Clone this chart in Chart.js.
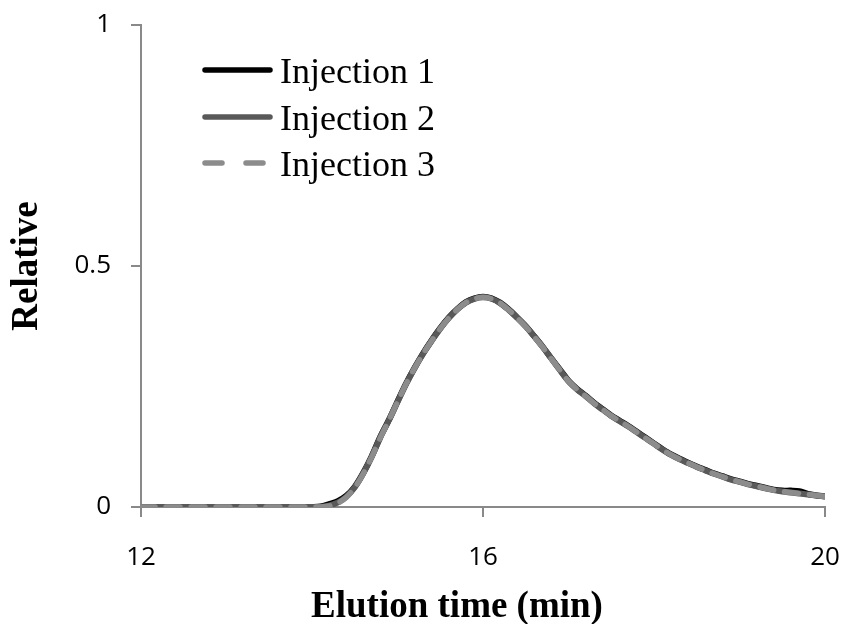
<!DOCTYPE html>
<html>
<head>
<meta charset="utf-8">
<script src="https://cdn.jsdelivr.net/npm/chart.js@4"></script>
<style>
  html, body { margin: 0; padding: 0; background: #fff; }
  #wrap { width: 844px; height: 624px; }
</style>
</head>
<body>
<div id="wrap"><canvas id="myChart" width="844" height="624"></canvas></div>
<script>
// elution time (min), sampled every 0.1 min
const times = [
  12.0, 12.1, 12.2, 12.3, 12.4, 12.5, 12.6, 12.7, 12.8, 12.9,
  13.0, 13.1, 13.2, 13.3, 13.4, 13.5, 13.6, 13.7, 13.8, 13.9,
  14.0, 14.1, 14.2, 14.3, 14.4, 14.5, 14.6, 14.7, 14.8, 14.9,
  15.0, 15.1, 15.2, 15.3, 15.4, 15.5, 15.6, 15.7, 15.8, 15.9,
  16.0, 16.1, 16.2, 16.3, 16.4, 16.5, 16.6, 16.7, 16.8, 16.9,
  17.0, 17.1, 17.2, 17.3, 17.4, 17.5, 17.6, 17.7, 17.8, 17.9,
  18.0, 18.1, 18.2, 18.3, 18.4, 18.5, 18.6, 18.7, 18.8, 18.9,
  19.0, 19.1, 19.2, 19.3, 19.4, 19.5, 19.6, 19.7, 19.8, 19.9,
  20.0
];

const injection1 = [
  0, 0, 0, 0, 0, 0, 0, 0, 0, 0,
  0, 0, 0, 0, 0, 0, 0, 0, 0, 0,
  0, 0.001, 0.006, 0.012, 0.023, 0.042, 0.071, 0.106, 0.146, 0.181,
  0.219, 0.256, 0.289, 0.319, 0.346, 0.371, 0.393, 0.411, 0.425, 0.433,
  0.436, 0.433, 0.424, 0.410, 0.393, 0.375, 0.354, 0.332, 0.308, 0.285,
  0.262, 0.245, 0.231, 0.216, 0.203, 0.190, 0.179, 0.168, 0.156, 0.144,
  0.132, 0.120, 0.109, 0.100, 0.092, 0.084, 0.077, 0.070, 0.064, 0.058,
  0.053, 0.048, 0.044, 0.040, 0.036, 0.034, 0.034, 0.033, 0.027, 0.024,
  0.022
];

const injection2 = [
  0, 0, 0, 0, 0, 0, 0, 0, 0, 0,
  0, 0, 0, 0, 0, 0, 0, 0, 0, 0,
  0, 0, 0.003, 0.009, 0.021, 0.041, 0.070, 0.105, 0.145, 0.180,
  0.218, 0.255, 0.288, 0.318, 0.345, 0.370, 0.392, 0.410, 0.424, 0.432,
  0.435, 0.432, 0.423, 0.409, 0.393, 0.375, 0.354, 0.332, 0.308, 0.284,
  0.261, 0.244, 0.230, 0.215, 0.202, 0.189, 0.178, 0.167, 0.155, 0.143,
  0.131, 0.119, 0.108, 0.099, 0.091, 0.083, 0.076, 0.069, 0.063, 0.057,
  0.052, 0.047, 0.043, 0.039, 0.035, 0.032, 0.030, 0.028, 0.026, 0.024,
  0.022
];

const injection3 = [
  0, 0, 0, 0, 0, 0, 0, 0, 0, 0,
  0, 0, 0, 0, 0, 0, 0, 0, 0, 0,
  0, 0, 0.002, 0.008, 0.020, 0.040, 0.069, 0.104, 0.144, 0.180,
  0.218, 0.255, 0.288, 0.318, 0.345, 0.370, 0.392, 0.410, 0.424, 0.432,
  0.435, 0.432, 0.423, 0.409, 0.392, 0.374, 0.353, 0.331, 0.307, 0.284,
  0.261, 0.244, 0.230, 0.215, 0.202, 0.189, 0.178, 0.167, 0.155, 0.143,
  0.131, 0.119, 0.108, 0.099, 0.091, 0.083, 0.076, 0.069, 0.063, 0.057,
  0.052, 0.047, 0.043, 0.039, 0.035, 0.032, 0.030, 0.028, 0.026, 0.024,
  0.022
];

const seriesNames = ['Injection 1', 'Injection 2', 'Injection 3'];
const xTicks = [12, 16, 20];
const yTicks = [0, 0.5, 1];
const xTitle = 'Elution time (min)';

const axisGray = '#898989';
const serif = '"Liberation Serif", "Times New Roman", serif';
const sans = '"Open Sans", "Liberation Sans", sans-serif';

function pts(ys) {
  return times.map((t, i) => ({ x: t, y: ys[i] }));
}

// drop the label overhang padding so the plot box sits where layout.padding says
function noOverhang(scale) {
  scale.paddingTop = 0;
  scale.paddingBottom = 0;
  scale.paddingLeft = 0;
  scale.paddingRight = 0;
}

// legend inside the plot (top left) and the x axis title, a bit left of centre
const overlay = {
  id: 'overlay',
  afterDraw(chart) {
    const ctx = chart.ctx;
    const rows = [70, 117, 163];
    ctx.save();
    chart.data.datasets.forEach((ds, i) => {
      const y = rows[i];
      ctx.beginPath();
      ctx.strokeStyle = ds.borderColor;
      ctx.lineWidth = 5.5;
      ctx.lineCap = 'round';
      ctx.setLineDash(ds.borderDash && ds.borderDash.length ? [17, 24] : []);
      ctx.moveTo(205, y);
      ctx.lineTo(270, y);
      ctx.stroke();
      ctx.setLineDash([]);
      ctx.fillStyle = '#000';
      ctx.font = '36px ' + serif;
      ctx.textAlign = 'left';
      ctx.textBaseline = 'alphabetic';
      ctx.fillText(ds.label, 280, y + 13);
    });
    ctx.font = 'bold 37px ' + serif;
    ctx.textAlign = 'center';
    ctx.fillText(xTitle, 457, 617);
    ctx.restore();
  }
};

const ctx = document.getElementById('myChart');

new Chart(ctx, {
  type: 'line',
  data: {
    datasets: [
      {
        label: seriesNames[0],
        data: pts(injection1),
        borderColor: '#000000',
        borderWidth: 6,
        order: 3
      },
      {
        label: seriesNames[1],
        data: pts(injection2),
        borderColor: '#595959',
        borderWidth: 6,
        order: 2
      },
      {
        label: seriesNames[2],
        data: pts(injection3),
        borderColor: '#8c8c8c',
        borderWidth: 5.5,
        borderDash: [14, 11],
        borderCapStyle: 'round',
        order: 1
      }
    ]
  },
  options: {
    responsive: false,
    animation: false,
    elements: {
      point: { radius: 0 },
      line: { tension: 0.3, borderJoinStyle: 'round' }
    },
    layout: { padding: { left: 0, top: 25, right: 19, bottom: 0 } },
    plugins: {
      legend: { display: false },
      tooltip: { enabled: false }
    },
    scales: {
      x: {
        type: 'linear',
        min: 12,
        max: 20,
        afterBuildTicks(scale) {
          scale.ticks = xTicks.map(v => ({ value: v }));
        },
        afterFit(scale) {
          scale.height = 117;
          noOverhang(scale);
        },
        grid: {
          drawOnChartArea: false,
          color: axisGray,
          lineWidth: 2,
          tickLength: 10
        },
        border: { color: axisGray, width: 2 },
        ticks: {
          color: '#000',
          font: { family: sans, size: 26 },
          padding: 25,
          maxRotation: 0
        }
      },
      y: {
        type: 'linear',
        min: 0,
        max: 1,
        afterBuildTicks(scale) {
          scale.ticks = yTicks.map(v => ({ value: v }));
        },
        afterFit(scale) {
          scale.width = 141;
          noOverhang(scale);
        },
        grid: {
          drawOnChartArea: false,
          color: axisGray,
          lineWidth: 2,
          tickLength: 10
        },
        border: { color: axisGray, width: 2 },
        ticks: {
          color: '#000',
          font: { family: sans, size: 26 },
          padding: 20,
          callback: v => String(v)
        },
        title: {
          display: true,
          text: 'Relative',
          color: '#000',
          font: { family: serif, size: 37, weight: 'bold' },
          padding: { top: 5, bottom: 0 }
        }
      }
    }
  },
  plugins: [overlay]
});
</script>
</body>
</html>
